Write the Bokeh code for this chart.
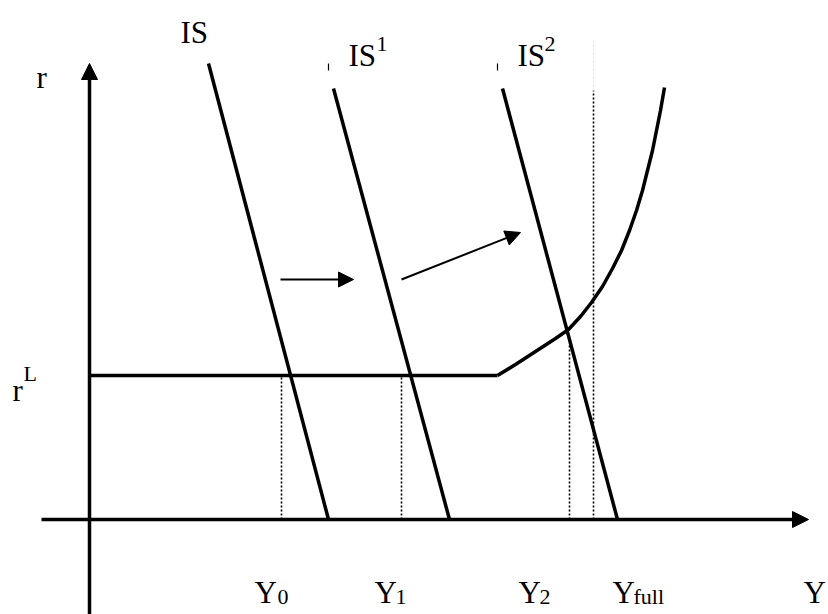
import math
from bokeh.plotting import figure
from bokeh.models import Range1d, Arrow, NormalHead
from bokeh.core.properties import value
from bokeh.embed import file_html
from bokeh.resources import INLINE

# ---- data (diagram coordinates: Y output to the right, r interest rate up) ----
axis_y_top = 441          # base of vertical axis arrow head
axis_y_tip = 456
axis_x_left = -48
axis_x_end = 704          # base of horizontal axis arrow head
axis_x_tip = 719
axis_y_bottom = -100

r_L = 144                 # liquidity-trap rate
kink_Y = 408
lm_Y = [408, 426, 446, 466, 479, 491, 502, 513, 523, 532, 540, 547, 553, 558, 563, 567, 571, 575]
lm_r = [144, 155, 168, 181, 190, 203, 217, 233, 251, 269, 289, 309, 329, 349, 369, 389, 409, 432]

is_names = ["IS", "IS1", "IS2"]
is_top_Y = [119, 244, 413]
is_top_r = [456, 431, 431]
is_bot_Y = [239, 360, 528]

tick_Y = [239, 408]       # small stubs above IS1 and IS2
tick_r0 = [449, 449]
tick_r1 = [456, 456]

mark_Y = [192, 312, 480, 504]     # Y0, Y1, Y2, Yfull
mark_top = [144, 144, 174, 429]

shift_x0 = [191, 312]
shift_y0 = [240, 240]
shift_x1 = [264, 431]
shift_y1 = [240, 287]

big_text = ["IS", "r", "IS", "IS", "r", "Y", "Y", "Y", "Y", "Y"]
big_x = [91, -53, 259, 428, -77, 165, 285, 429, 523, 714]
big_y = [487, 442, 464, 464, 129, -73, -73, -73, -73, -73]
small_text = ["1", "2", "L", "0", "1", "2", "full"]
small_x = [287, 455, -66, 188, 306, 450, 544]
small_y = [476, 476, 146, -77, -77, -77, -77]

FONT = value("Liberation Serif")

p = figure(width=828, height=614, x_range=Range1d(-89, 739), y_range=Range1d(-95, 519),
           output_backend="svg", toolbar_location=None, min_border=0)
p.axis.visible = False
p.grid.visible = False
p.outline_line_color = None
p.background_fill_color = "white"

LW = 3.5
# axes
p.segment(x0=[0], y0=[axis_y_bottom], x1=[0], y1=[axis_y_top], line_width=LW, line_color="black")
p.segment(x0=[axis_x_left], y0=[0], x1=[axis_x_end], y1=[0], line_width=LW, line_color="black")
p.add_layout(Arrow(x_start=0, y_start=axis_y_top - 2, x_end=0, y_end=axis_y_tip, line_alpha=0,
                   end=NormalHead(size=16, fill_color="black", line_color="black", line_width=1)))
p.add_layout(Arrow(x_start=axis_x_end - 2, y_start=0, x_end=axis_x_tip, y_end=0, line_alpha=0,
                   end=NormalHead(size=16, fill_color="black", line_color="black", line_width=1)))

# dotted guide lines
p.segment(x0=mark_Y, y0=[0] * 4, x1=mark_Y, y1=mark_top, line_width=1.6, line_color="black",
          line_dash="2 2")
p.segment(x0=[mark_Y[3]], y0=[mark_top[3]], x1=[mark_Y[3]], y1=[479], line_width=1,
          line_color="#e0e0e0", line_dash="2 2")

# LM curve: flat part + rising part
p.line([0, kink_Y], [r_L, r_L], line_width=LW, line_color="black")
p.line(lm_Y, lm_r, line_width=LW, line_color="black", line_join="round")

# IS curves
p.segment(x0=is_top_Y, y0=is_top_r, x1=is_bot_Y, y1=[0, 0, 0], line_width=LW, line_color="black")
p.segment(x0=tick_Y, y0=tick_r0, x1=tick_Y, y1=tick_r1, line_width=1.2, line_color="black")

# shift arrows
for xs, ys, xe, ye in zip(shift_x0, shift_y0, shift_x1, shift_y1):
    L = math.hypot(xe - xs, ye - ys)
    bx = xe - (xe - xs) / L * 12
    by = ye - (ye - ys) / L * 12
    p.segment(x0=[xs], y0=[ys], x1=[bx], y1=[by], line_width=2, line_color="black")
    p.add_layout(Arrow(x_start=bx, y_start=by, x_end=xe, y_end=ye, line_alpha=0,
                       end=NormalHead(size=15, fill_color="black", line_color="black", line_width=1)))

# labels
p.text(x=big_x, y=big_y, text=big_text, text_font=FONT, text_font_size=value("31px"),
       text_baseline="alphabetic", text_align="left", text_color="black")
p.text(x=small_x, y=small_y, text=small_text, text_font=FONT, text_font_size=value("22px"),
       text_baseline="alphabetic", text_align="left", text_color="black")

open("out.html", "w").write(file_html(p, INLINE))
